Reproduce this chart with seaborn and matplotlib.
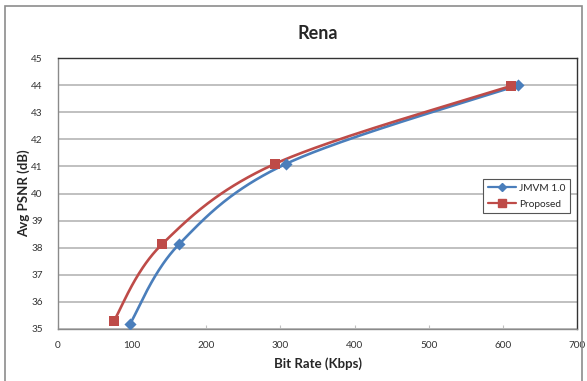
import numpy as np
import pandas as pd
import matplotlib
matplotlib.use("Agg")
import matplotlib.pyplot as plt
from matplotlib.lines import Line2D
import seaborn as sns

# Rate-distortion points
jmvm_rate = [97, 163, 308, 621]
jmvm_psnr = [35.18, 38.12, 41.1, 44.0]
prop_rate = [75, 140, 293, 611]
prop_psnr = [35.28, 38.12, 41.1, 43.97]

series_names = ["JMVM 1.0", "Proposed"]
colors = {"JMVM 1.0": "#4a7ebb", "Proposed": "#be4b48"}
markers = {"JMVM 1.0": "D", "Proposed": "s"}

x_ticks = [0, 100, 200, 300, 400, 500, 600, 700]
y_ticks = [35, 36, 37, 38, 39, 40, 41, 42, 43, 44, 45]


def smooth(xs, ys, n=60):
    """Cubic Bezier smoothing through the points (spreadsheet-style)."""
    p = np.column_stack([xs, ys]).astype(float)
    ext = np.vstack([p[0], p, p[-1]])
    out = []
    t = np.linspace(0, 1, n)[:, None]
    for i in range(len(p) - 1):
        p0, p1, p2, p3 = ext[i], ext[i + 1], ext[i + 2], ext[i + 3]
        c1 = p1 + (p2 - p0) / 6.0
        c2 = p2 - (p3 - p1) / 6.0
        seg = ((1 - t) ** 3) * p1 + 3 * ((1 - t) ** 2) * t * c1 + 3 * (1 - t) * t ** 2 * c2 + t ** 3 * p2
        out.append(seg if i == 0 else seg[1:])
    s = np.vstack(out)
    return s[:, 0], s[:, 1]


points = pd.DataFrame({
    "rate": jmvm_rate + prop_rate,
    "psnr": jmvm_psnr + prop_psnr,
    "method": [series_names[0]] * len(jmvm_rate) + [series_names[1]] * len(prop_rate),
})

curves = []
for name, xs, ys in [(series_names[0], jmvm_rate, jmvm_psnr), (series_names[1], prop_rate, prop_psnr)]:
    sx, sy = smooth(xs, ys)
    curves.append(pd.DataFrame({"rate": sx, "psnr": sy, "method": name, "order": np.arange(len(sx))}))
curves = pd.concat(curves, ignore_index=True)

sns.set_theme(style="white")
plt.rcParams["font.family"] = ["Lato", "DejaVu Sans"]

fig = plt.figure(figsize=(5.87, 3.81), dpi=100)
fig.patch.set_facecolor("white")

# Outer chart frame
frame = plt.Rectangle((5 / 587, -0.01), 577 / 587, 1 - 6 / 381 + 0.01, transform=fig.transFigure,
                      fill=False, edgecolor="#8c8c8c", linewidth=1.2)
fig.add_artist(frame)

ax = fig.add_axes([58 / 587, (381 - 329) / 381, 519 / 587, 271 / 381])

for name in series_names:
    d = curves[curves["method"] == name]
    sns.lineplot(data=d, x="rate", y="psnr", sort=False, estimator=None, color=colors[name],
                 linewidth=1.9, ax=ax, legend=False, zorder=3)
    pts = points[points["method"] == name]
    sns.scatterplot(data=pts, x="rate", y="psnr", marker=markers[name], color=colors[name],
                    s=38 if markers[name] == "D" else 48, edgecolor=colors[name], linewidth=0,
                    ax=ax, legend=False, zorder=4)

ax.set_xlim(0, 700)
ax.set_ylim(35, 45)
ax.set_xticks(x_ticks)
ax.set_yticks(y_ticks)
ax.set_xticklabels([str(v) for v in x_ticks], fontsize=7.2, color="#333333")
ax.set_yticklabels([str(v) for v in y_ticks], fontsize=7.2, color="#333333")
ax.tick_params(axis="x", direction="in", length=3, width=0.8, color="#c0c0c0", pad=9, bottom=True)
ax.tick_params(axis="y", direction="out", length=0, pad=11, left=True)

ax.grid(axis="y", color="#c0c0c0", linewidth=1.4)
ax.grid(axis="x", visible=False)
ax.set_axisbelow(True)

for side in ["left", "bottom"]:
    ax.spines[side].set_color("#8a8a8a")
    ax.spines[side].set_linewidth(1.0)
for side in ["top", "right"]:
    ax.spines[side].set_color("#333333")
    ax.spines[side].set_linewidth(1.0)

ax.set_xlabel("Bit Rate (Kbps)", fontsize=9.5, fontweight="bold", labelpad=5)
ax.set_ylabel("Avg PSNR (dB)", fontsize=9.5, fontweight="bold", labelpad=1)
ax.set_title("Rena", fontsize=13, fontweight="bold", pad=14)

handles = [
    Line2D([0], [0], color=colors[n], marker=markers[n], markersize=4.5 if markers[n] == "D" else 5.5,
           linewidth=1.6)
    for n in series_names
]
leg = ax.legend(handles, series_names, loc="center left", bbox_to_anchor=(0.81, 0.49),
                fontsize=7.3, frameon=True, fancybox=False, framealpha=1, edgecolor="#555555",
                handlelength=2.8, handletextpad=0.3, borderpad=0.45, labelspacing=0.65)
leg.get_frame().set_linewidth(0.8)

fig.savefig("out.png", dpi=100)
